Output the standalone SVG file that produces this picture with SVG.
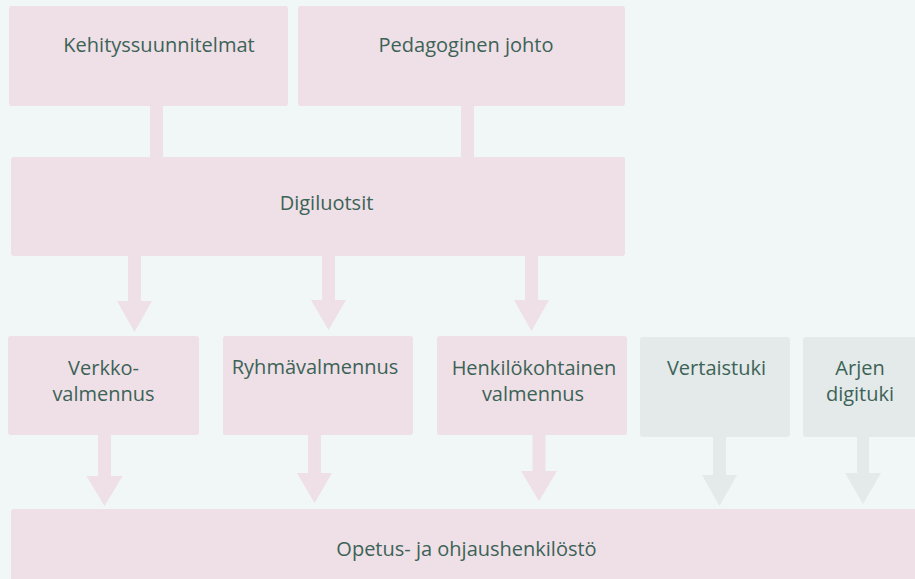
<svg xmlns="http://www.w3.org/2000/svg" width="915" height="579" viewBox="0 0 915 579">
<style>
.bg{fill:#f1f7f7}
.p{fill:#efdfe6}
.g{fill:#e4e9e9}
text{font-family:"Open Sans","Noto Sans",sans-serif;font-size:20px;fill:#3c6357;text-anchor:middle}
</style>
<rect class="bg" x="0" y="0" width="915" height="579"/>
<g id="connectors">
<rect class="p" x="150" y="104" width="13" height="55"/>
<rect class="p" x="461" y="104" width="13" height="55"/>
<path class="p" d="M128,254 H141 V301 H152 L134.5,332 L117,301 H128 Z"/>
<path class="p" d="M322,254 H335 V300 H346 L328.5,330 L311,300 H322 Z"/>
<path class="p" d="M525,254 H538 V300 H549 L531.5,331 L514,300 H525 Z"/>
<path class="p" d="M98,433 H111 V476 H122.5 L104.5,506 L86.5,476 H98 Z"/>
<path class="p" d="M308,433 H321 V473 H332 L314.5,503 L297,473 H308 Z"/>
<path class="p" d="M532.5,433 H545.5 V471 H557 L539,501 L521,471 H532.5 Z"/>
<path class="g" d="M713,435 H726 V475 H737 L719.5,506 L702,475 H713 Z"/>
<path class="g" d="M857,435 H869 V473 H881 L863,504 L845,473 H857 Z"/>
</g>
<g id="kehityssuunnitelmat">
<rect class="p" x="9" y="6" width="279" height="100" rx="3"/>
<text x="159" y="52">Kehityssuunnitelmat</text>
</g>
<g id="pedagoginen-johto">
<rect class="p" x="298" y="6" width="327" height="100" rx="3"/>
<text x="466" y="52">Pedagoginen johto</text>
</g>
<g id="digiluotsit">
<rect class="p" x="11" y="157" width="614" height="99" rx="3"/>
<text x="326.5" y="210">Digiluotsit</text>
</g>
<g id="verkkovalmennus">
<rect class="p" x="8" y="336" width="191" height="99" rx="3"/>
<text x="103.5" y="375">Verkko-</text>
<text x="103.5" y="401">valmennus</text>
</g>
<g id="ryhmavalmennus">
<rect class="p" x="223" y="336" width="190" height="99" rx="3"/>
<text x="315" y="374">Ryhmävalmennus</text>
</g>
<g id="henkilokohtainen-valmennus">
<rect class="p" x="437" y="336" width="190" height="99" rx="3"/>
<text x="534" y="375">Henkilökohtainen</text>
<text x="533" y="401">valmennus</text>
</g>
<g id="vertaistuki">
<rect class="g" x="640" y="337" width="150" height="100" rx="3"/>
<text x="716.5" y="375">Vertaistuki</text>
</g>
<g id="arjen-digituki">
<rect class="g" x="803" y="337" width="115" height="100" rx="3"/>
<text x="860" y="375">Arjen</text>
<text x="860" y="401">digituki</text>
</g>
<g id="opetus-ja-ohjaushenkilosto">
<rect class="p" x="11" y="509" width="910" height="80" rx="3"/>
<text x="466.5" y="556">Opetus- ja ohjaushenkilöstö</text>
</g>
</svg>
